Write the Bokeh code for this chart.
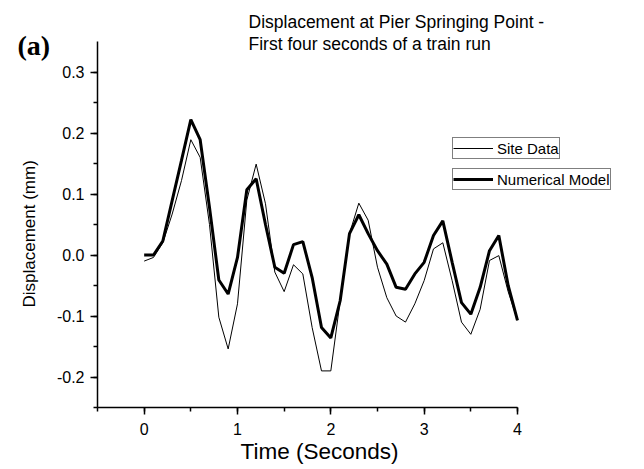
import math
from bokeh.plotting import figure
from bokeh.embed import file_html
from bokeh.resources import INLINE
from bokeh.models import (Range1d, SingleIntervalTicker, CustomJSTickFormatter,
                          Legend, LegendItem, Label)

# ---- data ----
time_s = [round(0.1 * i, 1) for i in range(41)]
site_data = [-0.010, -0.004, 0.020, 0.067, 0.122, 0.189, 0.160, 0.050, -0.102, -0.154,
             -0.080, 0.090, 0.149, 0.084, -0.028, -0.060, -0.016, -0.031, -0.119, -0.190,
             -0.190, -0.075, 0.035, 0.085, 0.057, -0.020, -0.070, -0.100, -0.110, -0.080,
             -0.042, 0.010, 0.020, -0.042, -0.110, -0.130, -0.089, -0.009, -0.001, -0.060,
             -0.107]
numerical_model = [0.000, 0.000, 0.023, 0.089, 0.155, 0.222, 0.189, 0.078, -0.041, -0.064,
                   -0.004, 0.107, 0.125, 0.050, -0.020, -0.030, 0.017, 0.022, -0.037, -0.119,
                   -0.136, -0.075, 0.035, 0.066, 0.035, 0.007, -0.015, -0.053, -0.056, -0.031,
                   -0.012, 0.032, 0.056, -0.012, -0.078, -0.097, -0.053, 0.007, 0.032, -0.050,
                   -0.107]
series_names = ["Site Data", "Numerical Model"]
title_lines = ["Displacement at Pier Springing Point -", "First four seconds of a train run"]
panel_tag = "(a)"
x_label = "Time (Seconds)"
y_label = "Displacement (mm)"
x_axis_span = (-0.5, 4)
y_axis_span = (-0.25, 0.35)

FONT = "Liberation Sans"
W, H = 640, 465
AX_X, AX_Y = 97, 407          # pixel position of the axis corner
PX_PER_X = 93.33              # pixels per second
PX_PER_Y = 610.0              # pixels per mm

x_start = x_axis_span[0] - AX_X / PX_PER_X
x_end = x_start + W / PX_PER_X
y_start = y_axis_span[0] - (H - AX_Y) / PX_PER_Y
y_end = y_start + H / PX_PER_Y

p = figure(width=W, height=H, output_backend="svg", toolbar_location=None,
           x_range=Range1d(x_start, x_end), y_range=Range1d(y_start, y_end),
           min_border_left=0, min_border_right=0, min_border_top=0, min_border_bottom=0)
p.outline_line_color = None
p.xgrid.visible = False
p.ygrid.visible = False
p.background_fill_color = "white"
p.border_fill_color = "white"

r_site = p.line(time_s, site_data, line_color="black", line_width=1)
r_model = p.line(time_s, numerical_model, line_color="black", line_width=3)

# axes, pinned at the corner inside the plotting area
xa = p.xaxis[0]
xa.fixed_location = y_axis_span[0]
xa.bounds = x_axis_span
xa.ticker = SingleIntervalTicker(interval=1, num_minor_ticks=2)
ya = p.yaxis[0]
ya.fixed_location = x_axis_span[0]
ya.bounds = y_axis_span
ya.ticker = SingleIntervalTicker(interval=0.1, num_minor_ticks=2)
ya.formatter = CustomJSTickFormatter(code="return Math.abs(tick) < 1e-9 ? '0.0' : tick.toFixed(1);")
for ax in (xa, ya):
    ax.axis_line_color = "black"
    ax.axis_line_width = 1.5
    ax.major_tick_line_color = "black"
    ax.major_tick_line_width = 1.5
    ax.minor_tick_line_color = "black"
    ax.minor_tick_line_width = 1.5
    ax.major_tick_in = 0
    ax.major_tick_out = 7
    ax.minor_tick_in = 0
    ax.minor_tick_out = 4
    ax.major_label_text_font = FONT
    ax.major_label_text_font_size = "16px"
    ax.major_label_text_color = "black"
xa.major_label_standoff = 8
ya.major_label_standoff = 6

def screen_label(text, x, y_from_top, size, baseline="top", angle=0.0, font=FONT, style="normal"):
    return Label(x=x, y=H - y_from_top, x_units="screen", y_units="screen", text=text,
                 text_font=font, text_font_size=size, text_font_style=style,
                 text_baseline=baseline, text_align="left", angle=angle, text_color="black")

# chart title, panel tag and axis titles
p.add_layout(screen_label(title_lines[0], 248, 11, "17.5px"))
p.add_layout(screen_label(title_lines[1], 248, 33, "17.5px"))
p.add_layout(screen_label(panel_tag, 17, 44.5, "28px", baseline="middle",
                          font="Liberation Serif", style="bold"))
p.add_layout(screen_label(x_label, 240, 451, "22.5px", baseline="middle"))
p.add_layout(screen_label(y_label, 29, 307, "17px", baseline="middle", angle=math.pi / 2))

# series legends (two separate boxes)
def make_legend(name, renderer, loc):
    lg = Legend(items=[LegendItem(label=name, renderers=[renderer])], location=loc)
    lg.border_line_color = "black"
    lg.border_line_width = 1
    lg.background_fill_color = "white"
    lg.background_fill_alpha = 1
    lg.padding = 0
    lg.margin = 0
    lg.spacing = 0
    lg.glyph_width = 40
    lg.glyph_height = 20
    lg.label_height = 20
    lg.label_standoff = 4
    lg.label_text_font = FONT
    lg.label_text_font_size = "15px"
    lg.label_text_color = "black"
    lg.label_text_baseline = "middle"
    return lg

p.add_layout(make_legend(series_names[0], r_site, (452, H - 159)))
p.add_layout(make_legend(series_names[1], r_model, (452, H - 190)))

open("out.html", "w").write(file_html(p, INLINE))
